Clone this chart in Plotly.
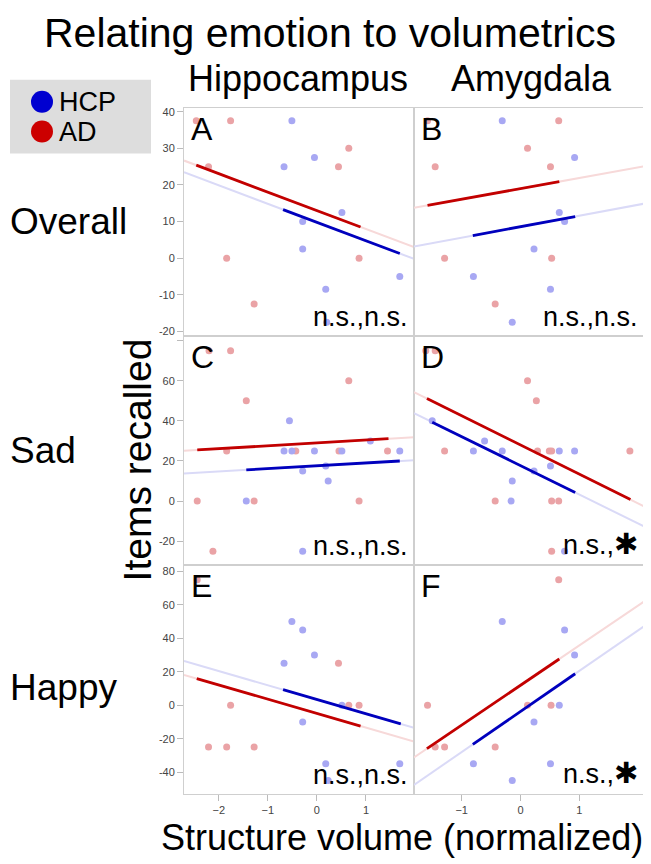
import plotly.graph_objects as go

# ---------------- data ----------------
panels = ["A", "B", "C", "D", "E", "F"]
row_labels = ["Overall", "Sad", "Happy"]
col_labels = ["Hippocampus", "Amygdala"]
group_names = ["HCP", "AD"]

A_ad_x = [-2.46, -1.76, -2.21, -1.84, -1.28, 0.44, 0.65, 0.86]
A_ad_y = [37.5, 37.5, 25, 0, -12.5, 25, 30, 0]
A_hcp_x = [-0.51, -0.67, -0.05, -0.29, -0.29, 0.51, 0.18, 1.69, 0.20]
A_hcp_y = [37.5, 25, 27.5, 10, 2.5, 12.5, -8.5, -5, -17.5]

B_ad_x = [-1.58, 0.65, 0.12, -1.45, 0.51, -1.29, 0.53, -0.43]
B_ad_y = [37.5, 37.5, 30, 25, 25, 0, 0, -12.5]
B_hcp_x = [-0.31, 0.92, 0.66, 0.75, 0.23, -0.80, 0.51, -0.14]
B_hcp_y = [37.5, 27.5, 12.5, 10, 2.5, -5, -8.5, -17.5]

C_ad_x = [-2.20, -1.76, -1.44, -1.84, -0.43, 0.45, 1.44, 0.65, -2.44, -1.28, 0.86, -2.12]
C_ad_y = [75, 75, 50, 25, 25, 25, 25, 60, 0, 0, 0, -25]
C_hcp_x = [-0.56, -0.67, -0.51, -0.05, 0.51, 1.69, -0.29, 0.18, 0.23, 1.09, -1.44, -0.29]
C_hcp_y = [40, 25, 25, 25, 25, 25, 15, 17.5, 10, 30, 0, -25]

D_ad_x = [-1.61, -1.45, 0.12, 0.27, -1.29, 0.29, 0.49, 0.53, 1.86, -0.43, 0.53, 0.65, 0.53]
D_ad_y = [75, 75, 60, 50, 25, 25, 25, 25, 25, 0, 0, 0, -25]
D_hcp_x = [-1.50, -0.61, -0.80, -0.31, 0.66, 0.92, 0.51, 0.23, -0.14, -0.16, 0.75]
D_hcp_y = [40, 30, 25, 25, 25, 25, 17.5, 15, 10, 0, -25]

E_ad_x = [-2.44, -1.76, -2.21, -1.84, -1.28, 0.44, 0.65, 0.86]
E_ad_y = [75, 0, -25, -25, -25, 25, 0, 0]
E_hcp_x = [-0.51, -0.29, -0.05, -0.67, 0.51, -0.29, 0.18, 1.69, 0.23]
E_hcp_y = [50, 45, 30, 25, 0, -10, -35, -35, -45]

F_ad_x = [0.65, -1.58, 0.52, -1.45, -1.29, -0.43, 0.12]
F_ad_y = [75, 0, 0, -25, -25, -25, 0]
F_hcp_x = [-0.31, 0.75, 0.92, 0.66, 0.23, -0.80, 0.51, -0.14]
F_hcp_y = [50, 45, 30, 0, -10, -35, -35, -45]

# regression fits: slope, intercept, x-start, x-end (per panel A..F)
ad_slope = [-5.04, 2.90, 1.44, -14.57, -8.50, 23.82]
ad_intercept = [13.0, 19.0, 29.0, 28.0, -4.9, 11.9]
ad_xstart = [-2.46, -1.58, -2.44, -1.59, -2.45, -1.59]
ad_xend = [0.89, 0.66, 1.46, 1.87, 0.89, 0.66]
hcp_slope = [-5.04, 2.99, 1.41, -14.44, -8.50, 24.25]
hcp_intercept = [9.8, 8.6, 17.6, 17.7, 3.4, -3.75]
hcp_xstart = [-0.69, -0.81, -1.44, -1.50, -0.69, -0.81]
hcp_xend = [1.69, 0.93, 1.69, 0.93, 1.71, 0.93]

significance = ["n.s.,n.s.", "n.s.,n.s.", "n.s.,n.s.", "n.s.,*", "n.s.,n.s.", "n.s.,*"]

# axis tick values / labels
x_ticks_hippo = [-2, -1, 0, 1]
x_ticks_amyg = [-1, 0, 1]
y_ticks_rows = [[-20, -10, 0, 10, 20, 30, 40],
                [-20, 0, 20, 40, 60, 80],
                [-40, -20, 0, 20, 40, 60, 80]]
y_ticklabels_rows = [["-20", "-10", "0", "10", "20", "30", "40"],
                     ["-20", "0", "20", "40", "60", ""],
                     ["-40", "-20", "0", "20", "40", "60", "80"]]

ad_x = [A_ad_x, B_ad_x, C_ad_x, D_ad_x, E_ad_x, F_ad_x]
ad_y = [A_ad_y, B_ad_y, C_ad_y, D_ad_y, E_ad_y, F_ad_y]
hcp_x = [A_hcp_x, B_hcp_x, C_hcp_x, D_hcp_x, E_hcp_x, F_hcp_x]
hcp_y = [A_hcp_y, B_hcp_y, C_hcp_y, D_hcp_y, E_hcp_y, F_hcp_y]

# ---------------- layout geometry ----------------
OFF = 8                      # page body margin
W, H = 651 - OFF, 864 - OFF  # figure size that fills the window
FONT = "Liberation Sans, Arial, Helvetica, sans-serif"

col_px = [(184, 414), (414, 644)]
row_px = [(106, 335), (335, 565), (565, 795)]
x_ranges = [(-2.71, 1.98), (-1.81, 2.10)]
y_ranges = [(-21.2, 41.1), (-31.9, 82.4), (-53.2, 83.75)]

def px2x(px):
    return (px - OFF) / W

def px2y(py):
    return 1 - (py - OFF) / H

RED_PT = "#eaa3a6"
BLUE_PT = "#a8a8f3"
RED_LN = "#c20000"
BLUE_LN = "#0000bd"
RED_FAINT = "#f7d9d9"
BLUE_FAINT = "#dadaf7"

fig = go.Figure()
layout = dict(
    width=W, height=H,
    margin=dict(l=0, r=0, t=0, b=0),
    paper_bgcolor="white", plot_bgcolor="white",
    showlegend=False,
    font=dict(family=FONT, color="black"),
)
annotations = []
shapes = []

for i, p in enumerate(panels):
    r, c = divmod(i, 2)
    ax = "" if i == 0 else str(i + 1)
    xref, yref = "x" + ax, "y" + ax
    x0, x1 = x_ranges[c]
    y0, y1 = y_ranges[r]

    layout["xaxis" + ax] = dict(
        domain=[px2x(col_px[c][0]), px2x(col_px[c][1])],
        range=[x0, x1], anchor=yref,
        showgrid=False, zeroline=False,
        showline=True, mirror=True, linecolor="#cfcfcf", linewidth=1,
        tickvals=(x_ticks_hippo if c == 0 else x_ticks_amyg),
        showticklabels=(r == 2),
        ticks="outside" if r == 2 else "", ticklen=6, tickcolor="#bbbbbb",
        tickfont=dict(size=11, color="#444444", family=FONT),
    )
    layout["yaxis" + ax] = dict(
        domain=[px2y(row_px[r][1]), px2y(row_px[r][0])],
        range=[y0, y1], anchor=xref,
        showgrid=False, zeroline=False,
        showline=True, mirror=True, linecolor="#cfcfcf", linewidth=1,
        tickvals=y_ticks_rows[r], ticktext=y_ticklabels_rows[r],
        showticklabels=(c == 0),
        ticks="outside" if c == 0 else "", ticklen=6, tickcolor="#bbbbbb",
        tickfont=dict(size=11, color="#444444", family=FONT),
    )

    # faint full-range regression extensions
    for slope, icpt, col in [(ad_slope[i], ad_intercept[i], RED_FAINT),
                             (hcp_slope[i], hcp_intercept[i], BLUE_FAINT)]:
        fig.add_trace(go.Scatter(
            x=[x0, x1], y=[icpt + slope * x0, icpt + slope * x1],
            mode="lines", line=dict(color=col, width=2),
            xaxis=xref, yaxis=yref, hoverinfo="skip"))

    # points
    fig.add_trace(go.Scatter(x=ad_x[i], y=ad_y[i], mode="markers",
                             marker=dict(color=RED_PT, size=7),
                             xaxis=xref, yaxis=yref, name="AD"))
    fig.add_trace(go.Scatter(x=hcp_x[i], y=hcp_y[i], mode="markers",
                             marker=dict(color=BLUE_PT, size=7),
                             xaxis=xref, yaxis=yref, name="HCP"))

    # solid regression segments over data range
    for slope, icpt, xs, xe, col in [
            (ad_slope[i], ad_intercept[i], ad_xstart[i], ad_xend[i], RED_LN),
            (hcp_slope[i], hcp_intercept[i], hcp_xstart[i], hcp_xend[i], BLUE_LN)]:
        fig.add_trace(go.Scatter(
            x=[xs, xe], y=[icpt + slope * xs, icpt + slope * xe],
            mode="lines", line=dict(color=col, width=2.8),
            xaxis=xref, yaxis=yref, hoverinfo="skip"))

    # panel letter
    annotations.append(dict(
        text=p, xref="paper", yref="paper",
        x=px2x(col_px[c][0] + 5), y=px2y(row_px[r][0] + 21),
        xanchor="left", yanchor="middle", showarrow=False,
        font=dict(size=32, family=FONT, color="black")))

    # significance label
    sig = significance[i]
    if sig.endswith("*"):
        sig = sig[:-1] + "<span style='font-family:DejaVu Sans;font-size:29px'>\u2731</span>"
    annotations.append(dict(
        text=sig, xref="paper", yref="paper",
        x=px2x(col_px[c][1] - 4), y=px2y(row_px[r][1] - 2),
        xanchor="right", yanchor="bottom", showarrow=False,
        font=dict(size=27, family=FONT, color="black")))

# row labels
row_centers = [220, 450, 688]
for lbl, yc in zip(row_labels, row_centers):
    annotations.append(dict(text=lbl, xref="paper", yref="paper",
                            x=px2x(8), y=px2y(yc), xanchor="left", yanchor="middle",
                            showarrow=False, font=dict(size=37, family=FONT)))

# column labels
col_centers = [298, 531]
for lbl, xc in zip(col_labels, col_centers):
    annotations.append(dict(text=lbl, xref="paper", yref="paper",
                            x=px2x(xc), y=px2y(77), xanchor="center", yanchor="middle",
                            showarrow=False, font=dict(size=36, family=FONT)))

# title
annotations.append(dict(text="Relating emotion to volumetrics", xref="paper", yref="paper",
                        x=px2x(330), y=px2y(31), xanchor="center", yanchor="middle",
                        showarrow=False, font=dict(size=41, family=FONT)))

# axis titles
annotations.append(dict(text="Structure volume (normalized)", xref="paper", yref="paper",
                        x=px2x(402), y=px2y(838), xanchor="center", yanchor="middle",
                        showarrow=False, font=dict(size=36, family=FONT)))
annotations.append(dict(text="Items recalled", xref="paper", yref="paper",
                        x=px2x(137), y=px2y(460), xanchor="center", yanchor="middle",
                        textangle=-90, showarrow=False, font=dict(size=39, family=FONT)))

# legend box
shapes.append(dict(type="rect", xref="paper", yref="paper",
                   x0=px2x(10), x1=px2x(151), y0=px2y(152), y1=px2y(78),
                   fillcolor="#dddddd", line=dict(width=0), layer="below"))
for name, col, yc in [(group_names[0], "#0000d0", 100), (group_names[1], "#cc0000", 130)]:
    shapes.append(dict(type="circle", xref="paper", yref="paper",
                       x0=px2x(31), x1=px2x(53), y0=px2y(yc + 11), y1=px2y(yc - 11),
                       fillcolor=col, line=dict(width=0)))
    annotations.append(dict(text=name, xref="paper", yref="paper",
                            x=px2x(57), y=px2y(yc), xanchor="left", yanchor="middle",
                            showarrow=False, font=dict(size=27, family=FONT)))

layout["annotations"] = annotations
layout["shapes"] = shapes
fig.update_layout(**layout)
fig.write_html("out.html")
